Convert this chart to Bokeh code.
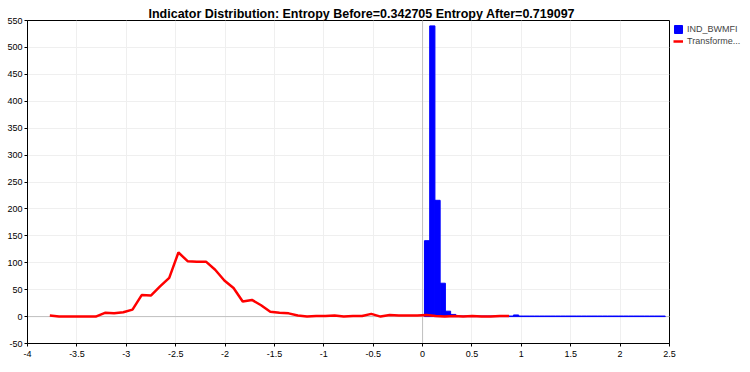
from bokeh.plotting import figure
from bokeh.models import Legend, LegendItem, Span, FixedTicker
from bokeh.embed import file_html
from bokeh.resources import INLINE

# Histogram of the raw indicator (IND_BWMFI)
hist_start = 0.019
hist_bin_width = 0.053
hist_counts = [141, 540, 216, 62, 10, 4, 1, 1, 1, 1, 1, 1, 1, 1, 1, 1, 1, 3,
               1, 1, 1, 1, 1, 1, 1, 1, 1, 1, 1, 1, 1, 1, 1, 1, 1, 1, 1, 1,
               1, 1, 1, 1, 1, 1, 1, 1]

# Transformed distribution (line)
trans_x = [-3.774, -3.681, -3.588, -3.495, -3.402, -3.309, -3.216, -3.123, -3.030, -2.937,
           -2.844, -2.751, -2.658, -2.565, -2.472, -2.379, -2.286, -2.193, -2.100, -2.007,
           -1.914, -1.821, -1.728, -1.635, -1.542, -1.449, -1.356, -1.263, -1.170, -1.077,
           -0.984, -0.891, -0.798, -0.705, -0.612, -0.519, -0.426, -0.333, -0.240, -0.147,
           -0.054, 0.039, 0.132, 0.225, 0.318, 0.411, 0.504, 0.597, 0.690, 0.783, 0.876]
trans_y = [2, 0, 0, 0, 0, 0, 7, 6, 8, 13,
           40, 39, 56, 72, 119, 103, 102, 102, 87, 67,
           53, 28, 31, 21, 9, 7, 6, 2, 0, 1,
           1, 2, 0, 1, 1, 5, 0, 3, 2, 2,
           2, 3, 1, 0, 1, 0, 1, 0, 0, 1, 1]

x_ticks = [-4, -3.5, -3, -2.5, -2, -1.5, -1, -0.5, 0, 0.5, 1, 1.5, 2, 2.5]
x_tick_labels = ["-4", "-3.5", "-3", "-2.5", "-2", "-1.5", "-1", "-0.5", "0", "0.5", "1", "1.5", "2", "2.5"]
y_ticks = [-50, 0, 50, 100, 150, 200, 250, 300, 350, 400, 450, 500, 550]
y_tick_labels = ["-50", "0", "50", "100", "150", "200", "250", "300", "350", "400", "450", "500", "550"]

title_text = "Indicator Distribution: Entropy Before=0.342705 Entropy After=0.719097"
series_names = ["IND_BWMFI", "Transforme..."]

hist_left = [hist_start + i * hist_bin_width for i in range(len(hist_counts))]
hist_right = [l + hist_bin_width for l in hist_left]

p = figure(frame_width=642, frame_height=323, output_backend="svg", toolbar_location=None,
           x_range=(-4, 2.5), y_range=(-50, 550), title=title_text,
           min_border_left=27, min_border_right=0, min_border_top=20, min_border_bottom=0)
p.title.align = "left"
p.title.text_font = "Liberation Sans"
p.title.text_font_size = "12.5px"
p.title.text_font_style = "bold"
p.title.text_color = "black"
p.title.standoff = 0
p.title.offset = 121
p.background_fill_color = "white"
p.border_fill_color = "white"
p.outline_line_color = "black"
p.outline_line_width = 1
p.outline_line_alpha = 1

for ax, ticks, labels in ((p.xaxis, x_ticks, x_tick_labels), (p.yaxis, y_ticks, y_tick_labels)):
    ax.ticker = FixedTicker(ticks=ticks)
    ax.major_label_overrides = {t: s for t, s in zip(ticks, labels)}
    ax.axis_line_color = "black"
    ax.major_tick_line_color = "black"
    ax.major_tick_out = 3
    ax.major_tick_in = 0
    ax.minor_tick_line_color = None
    ax.major_label_text_font = "Liberation Sans"
    ax.major_label_text_font_size = "9px"
    ax.major_label_text_color = "black"
    ax.major_label_standoff = 2
p.xaxis.major_label_standoff = 4

p.grid.grid_line_color = "#efefef"
p.grid.grid_line_width = 1

p.add_layout(Span(location=0, dimension="width", line_color="#c0c0c0", line_width=1, level="underlay"))
p.add_layout(Span(location=0, dimension="height", line_color="#c0c0c0", line_width=1, level="underlay"))

r_hist = p.quad(left=hist_left, right=hist_right, bottom=0, top=hist_counts,
                fill_color="#0000ff", line_color="#0000ff", line_width=1)
r_line = p.line(trans_x, trans_y, line_color="#ff0000", line_width=2.5)

legend = Legend(items=[LegendItem(label=series_names[0], renderers=[r_hist]),
                       LegendItem(label=series_names[1], renderers=[r_line])],
                location=(4, 323 - 26), margin=0, padding=0,
                border_line_color=None, background_fill_alpha=0,
                label_text_font="Liberation Sans", label_text_font_size="9px",
                glyph_width=10, glyph_height=10, label_standoff=4,
                spacing=2, label_height=10)
p.add_layout(legend, "right")

open("out.html", "w").write(file_html(p, INLINE))
